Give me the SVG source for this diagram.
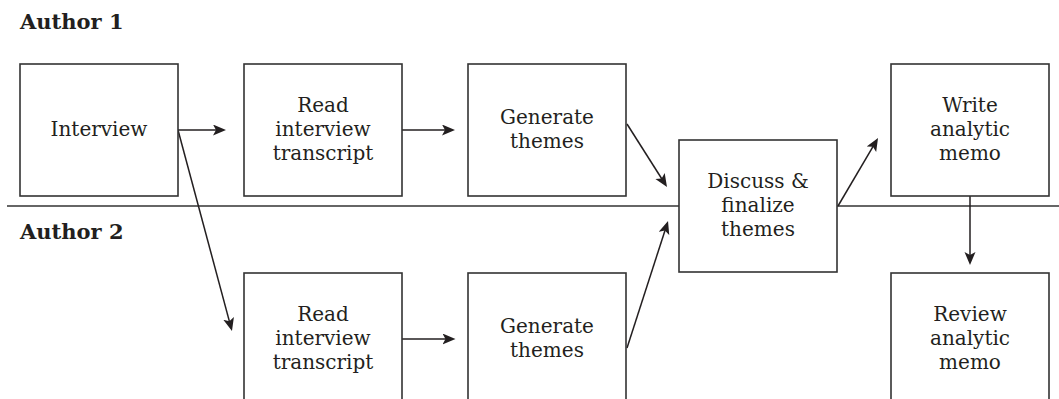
<svg xmlns="http://www.w3.org/2000/svg" width="1059" height="399" viewBox="0 0 1059 399">
<style>
.box{fill:#fff;stroke:#333;stroke-width:1.6}
.lbl{font-family:"DejaVu Serif","Liberation Serif",serif;font-size:20px;fill:#231f20;text-anchor:middle}
.lane{font-family:"DejaVu Serif","Liberation Serif",serif;font-size:21px;font-weight:bold;fill:#231f20}
.divider{stroke:#333;stroke-width:1.6}
.conn{stroke:#231f20;stroke-width:1.5;fill:none;marker-end:url(#arrow)}
</style>
<defs>
<marker id="arrow" markerUnits="userSpaceOnUse" markerWidth="15" markerHeight="12" refX="10" refY="5.5" orient="auto">
<path d="M0,0 L13,5.5 L0,11 L3,5.5 Z" fill="#231f20"/>
</marker>
</defs>
<rect width="1059" height="399" fill="#fff"/>
<text class="lane" x="20" y="29">Author 1</text>
<text class="lane" x="20" y="239">Author 2</text>
<line class="divider" x1="7" y1="206" x2="1059" y2="206"/>
<g id="connectors">
<line class="conn" x1="178" y1="130" x2="223" y2="130"/>
<line class="conn" x1="402" y1="130" x2="452" y2="130"/>
<line class="conn" x1="627" y1="124" x2="665.4" y2="184.5"/>
<line class="conn" x1="627" y1="348" x2="667.1" y2="223.9"/>
<line class="conn" x1="838" y1="206" x2="876.5" y2="140.6"/>
<line class="conn" x1="970" y1="196" x2="970" y2="262"/>
<line class="conn" x1="178" y1="130" x2="231.2" y2="328.1"/>
<line class="conn" x1="402" y1="339" x2="452.5" y2="339"/>
</g>
<g id="interview">
<rect class="box" x="20" y="64" width="158" height="132"/>
<text class="lbl" x="99" y="136">Interview</text>
</g>
<g id="read1">
<rect class="box" x="244" y="64" width="158" height="132"/>
<text class="lbl" x="323" y="112">Read</text>
<text class="lbl" x="323" y="136">interview</text>
<text class="lbl" x="323" y="160">transcript</text>
</g>
<g id="generate1">
<rect class="box" x="468" y="64" width="158" height="132"/>
<text class="lbl" x="547" y="124">Generate</text>
<text class="lbl" x="547" y="148">themes</text>
</g>
<g id="discuss">
<rect class="box" x="679" y="140" width="158" height="132"/>
<text class="lbl" x="758" y="188">Discuss &amp;</text>
<text class="lbl" x="758" y="212">finalize</text>
<text class="lbl" x="758" y="236">themes</text>
</g>
<g id="write">
<rect class="box" x="891" y="64" width="158" height="132"/>
<text class="lbl" x="970" y="112">Write</text>
<text class="lbl" x="970" y="136">analytic</text>
<text class="lbl" x="970" y="160">memo</text>
</g>
<g id="read2">
<rect class="box" x="244" y="273" width="158" height="132"/>
<text class="lbl" x="323" y="321">Read</text>
<text class="lbl" x="323" y="345">interview</text>
<text class="lbl" x="323" y="369">transcript</text>
</g>
<g id="generate2">
<rect class="box" x="468" y="273" width="158" height="132"/>
<text class="lbl" x="547" y="333">Generate</text>
<text class="lbl" x="547" y="357">themes</text>
</g>
<g id="review">
<rect class="box" x="891" y="273" width="158" height="132"/>
<text class="lbl" x="970" y="321">Review</text>
<text class="lbl" x="970" y="345">analytic</text>
<text class="lbl" x="970" y="369">memo</text>
</g>
</svg>
